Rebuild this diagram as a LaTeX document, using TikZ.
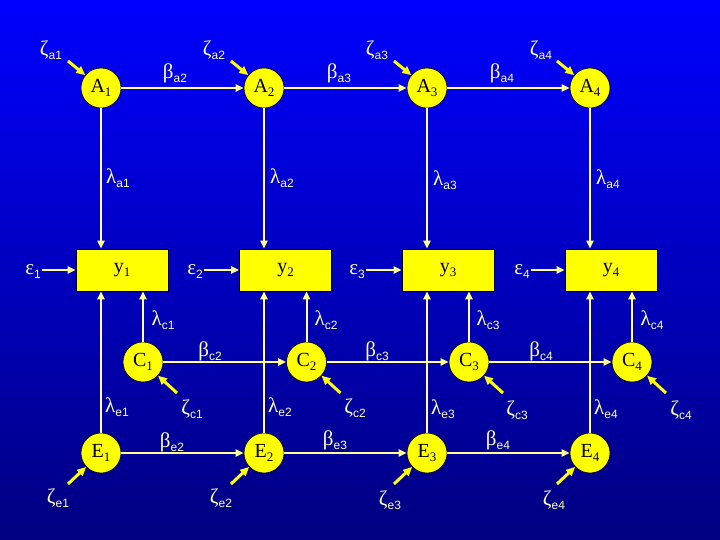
\documentclass[tikz,border=0pt]{standalone}
\usepackage{fontspec}
\setmainfont{Liberation Serif}
\newfontfamily\subsf{Liberation Sans}
\usetikzlibrary{arrows.meta}
\definecolor{bgtop}{RGB}{0,0,255}
\definecolor{bgbot}{RGB}{0,0,128}
\definecolor{linecol}{RGB}{255,255,150}
\definecolor{labcol}{RGB}{255,255,200}
\definecolor{nodecol}{RGB}{255,255,0}
\newcommand\glab[2]{{\fontsize{21}{21}\selectfont #1}\raisebox{-4pt}{\subsf\fontsize{12}{12}\selectfont #2}}
\newcommand\nlab[2]{{\fontsize{20}{20}\selectfont #1}\raisebox{-4pt}{\fontsize{13}{13}\selectfont #2}}
\tikzset{
  latent/.style={circle,draw=black,line width=0.6pt,fill=nodecol,minimum size=40pt,inner sep=0pt,text=black},
  obsbox/.style={rectangle,draw=black,line width=0.6pt,fill=nodecol,minimum width=92pt,minimum height=42pt,inner sep=0pt,text=black},
  lab/.style={text=labcol,inner sep=1pt},
  conn/.style={draw=linecol,line width=2pt},
  arr/.style={conn,-{Triangle[length=8pt,width=7pt,fill=nodecol]}},
  zarr/.style={draw=nodecol,line width=3pt,-{Triangle[length=9pt,width=8pt]}}
}
\begin{document}
\begin{tikzpicture}[x=1pt,y=-1pt]
\shade[top color=bgtop,bottom color=bgbot] (0,0) rectangle (720,540);
\useasboundingbox (0,0) rectangle (720,540);
% latent A
\node[latent] (A1) at (101,88) {\nlab{A}{1}};
\node[latent] (A2) at (264,88) {\nlab{A}{2}};
\node[latent] (A3) at (427,88) {\nlab{A}{3}};
\node[latent] (A4) at (590,88) {\nlab{A}{4}};
% boxes
\node[obsbox] (y1) at (122,270) {\nlab{y}{1}};
\node[obsbox] (y2) at (285.5,270) {\nlab{y}{2}};
\node[obsbox] (y3) at (448,270) {\nlab{y}{3}};
\node[obsbox] (y4) at (611,270) {\nlab{y}{4}};
% latent C
\node[latent] (C1) at (143,362) {\nlab{C}{1}};
\node[latent] (C2) at (306.5,362) {\nlab{C}{2}};
\node[latent] (C3) at (469,362) {\nlab{C}{3}};
\node[latent] (C4) at (632,362) {\nlab{C}{4}};
% latent E
\node[latent] (E1) at (101,453) {\nlab{E}{1}};
\node[latent] (E2) at (264,453) {\nlab{E}{2}};
\node[latent] (E3) at (427,453) {\nlab{E}{3}};
\node[latent] (E4) at (590,453) {\nlab{E}{4}};
% labels
\node[lab] (za1) at (51,50) {\glab{ζ}{a1}};
\node[lab] (za2) at (214,50) {\glab{ζ}{a2}};
\node[lab] (za3) at (377,50) {\glab{ζ}{a3}};
\node[lab] (za4) at (541,50) {\glab{ζ}{a4}};
\node[lab] (ba2) at (175,73) {\glab{β}{a2}};
\node[lab] (ba3) at (339,73) {\glab{β}{a3}};
\node[lab] (ba4) at (502,73) {\glab{β}{a4}};
\node[lab] (la1) at (118,178) {\glab{λ}{a1}};
\node[lab] (la2) at (282,178) {\glab{λ}{a2}};
\node[lab] (la3) at (445,180) {\glab{λ}{a3}};
\node[lab] (la4) at (608,179) {\glab{λ}{a4}};
\node[lab] (e1) at (33,272) {\glab{ε}{1}};
\node[lab] (e2) at (195,272) {\glab{ε}{2}};
\node[lab] (e3) at (357,272) {\glab{ε}{3}};
\node[lab] (e4) at (522,272) {\glab{ε}{4}};
\node[lab] (lc1) at (163,320) {\glab{λ}{c1}};
\node[lab] (lc2) at (326,320) {\glab{λ}{c2}};
\node[lab] (lc3) at (488,320) {\glab{λ}{c3}};
\node[lab] (lc4) at (652,320) {\glab{λ}{c4}};
\node[lab] (bc2) at (210,351) {\glab{β}{c2}};
\node[lab] (bc3) at (377,351) {\glab{β}{c3}};
\node[lab] (bc4) at (541,351) {\glab{β}{c4}};
\node[lab] (le1) at (117,407) {\glab{λ}{e1}};
\node[lab] (le2) at (280,407) {\glab{λ}{e2}};
\node[lab] (le3) at (443,409) {\glab{λ}{e3}};
\node[lab] (le4) at (606,409) {\glab{λ}{e4}};
\node[lab] (zc1) at (192,409) {\glab{ζ}{c1}};
\node[lab] (zc2) at (355,408) {\glab{ζ}{c2}};
\node[lab] (zc3) at (517,410) {\glab{ζ}{c3}};
\node[lab] (zc4) at (681,410) {\glab{ζ}{c4}};
\node[lab] (be2) at (172,442) {\glab{β}{e2}};
\node[lab] (be3) at (335,440) {\glab{β}{e3}};
\node[lab] (be4) at (498,440) {\glab{β}{e4}};
\node[lab] (ze1) at (58,498) {\glab{ζ}{e1}};
\node[lab] (ze2) at (221,498) {\glab{ζ}{e2}};
\node[lab] (ze3) at (390,500) {\glab{ζ}{e3}};
\node[lab] (ze4) at (554,500) {\glab{ζ}{e4}};
% free ends of zeta arrows
\coordinate (zas1) at (68,61);
\coordinate (zas2) at (231,61);
\coordinate (zas3) at (394,61);
\coordinate (zas4) at (557,61);
\coordinate (zcs1) at (177,393);
\coordinate (zcs2) at (340.5,393);
\coordinate (zcs3) at (503,393);
\coordinate (zcs4) at (666,393);
\coordinate (zes1) at (68,484);
\coordinate (zes2) at (231,484);
\coordinate (zes3) at (394,484);
\coordinate (zes4) at (557,484);
% connectors
\foreach \i in {1,2,3,4}{
  \draw[arr] (A\i) -- (A\i |- y\i.north);
  \draw[arr] (E\i) -- (E\i |- y\i.south);
  \draw[arr] (C\i) -- (C\i |- y\i.south);
  \draw[arr] (e\i.east |- y\i.west) -- (y\i.west);
  \draw[zarr] (zas\i) -- (A\i);
  \draw[zarr] (zcs\i) -- (C\i);
  \draw[zarr] (zes\i) -- (E\i);
}
\foreach \i/\j in {1/2,2/3,3/4}{
  \draw[arr] (A\i) -- (A\j);
  \draw[arr] (C\i) -- (C\j);
  \draw[arr] (E\i) -- (E\j);
}
\end{tikzpicture}
\end{document}
